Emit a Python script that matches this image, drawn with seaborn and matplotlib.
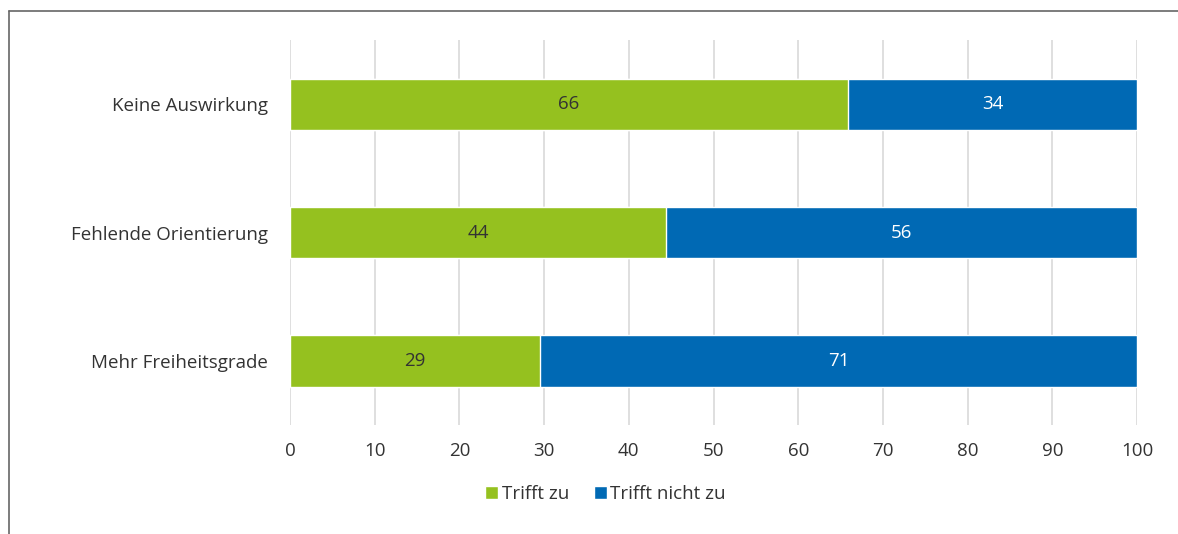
import matplotlib
matplotlib.use("Agg")
import matplotlib.pyplot as plt
import seaborn as sns
import pandas as pd
from matplotlib.patches import Patch
from matplotlib.lines import Line2D

categories = ["Keine Auswirkung", "Fehlende Orientierung", "Mehr Freiheitsgrade"]
trifft_zu = [65.9, 44.4, 29.5]
trifft_nicht_zu = [34.1, 55.6, 70.5]
labels_zu = ["66", "44", "29"]
labels_nicht = ["34", "56", "71"]
series_names = ["Trifft zu", "Trifft nicht zu"]

green = "#95c11f"
blue = "#0069b4"
text_col = "#333333"
fs = 13.5

sns.set_style("white")
plt.rcParams["font.family"] = ["Open Sans", "DejaVu Sans"]

df = pd.DataFrame({"cat": categories, "zu": trifft_zu, "nicht": trifft_nicht_zu})
df["total"] = df["zu"] + df["nicht"]

fig = plt.figure(figsize=(11.78, 5.34), dpi=100)
ax = fig.add_axes([0.2462, 0.204, 0.719, 0.721])

sns.barplot(data=df, x="total", y="cat", orient="h", color=blue, width=0.4,
            saturation=1, ax=ax, zorder=3)
sns.barplot(data=df, x="zu", y="cat", orient="h", color=green, width=0.4,
            saturation=1, ax=ax, zorder=3)

for i in range(len(categories)):
    ax.text(trifft_zu[i] / 2, i, labels_zu[i], ha="center", va="center",
            fontsize=fs, color=text_col, zorder=4)
    ax.text(trifft_zu[i] + trifft_nicht_zu[i] / 2, i, labels_nicht[i],
            ha="center", va="center", fontsize=fs, color="white", zorder=4)

ax.set_xlim(0, 100)
ax.set_ylim(2.5, -0.5)
ax.set_xticks(range(0, 101, 10))
ax.xaxis.grid(True, color="#d9d9d9", linewidth=1.2, zorder=0)
ax.yaxis.grid(False)
ax.set_axisbelow(True)
for s in ax.spines.values():
    s.set_visible(False)
ax.tick_params(axis="both", length=0, labelsize=fs, colors=text_col)
ax.tick_params(axis="x", pad=12)
ax.tick_params(axis="y", pad=16)
ax.set_xlabel("")
ax.set_ylabel("")

handles = [Patch(facecolor=green, label=series_names[0]),
           Patch(facecolor=blue, label=series_names[1])]
fig.legend(handles=handles, loc="center", bbox_to_anchor=(0.514, 0.074),
           ncol=2, frameon=False, fontsize=fs, handlelength=0.7,
           handleheight=0.7, handletextpad=0.2, columnspacing=1.3,
           labelcolor=text_col)

# frame lines at top and left
fig.add_artist(Line2D([0.0076, 1.0], [0.979, 0.979], color="#666666", linewidth=1.2))
fig.add_artist(Line2D([0.0076, 0.0076], [0.0, 0.979], color="#666666", linewidth=1.2))

fig.savefig("out.png", dpi=100)
